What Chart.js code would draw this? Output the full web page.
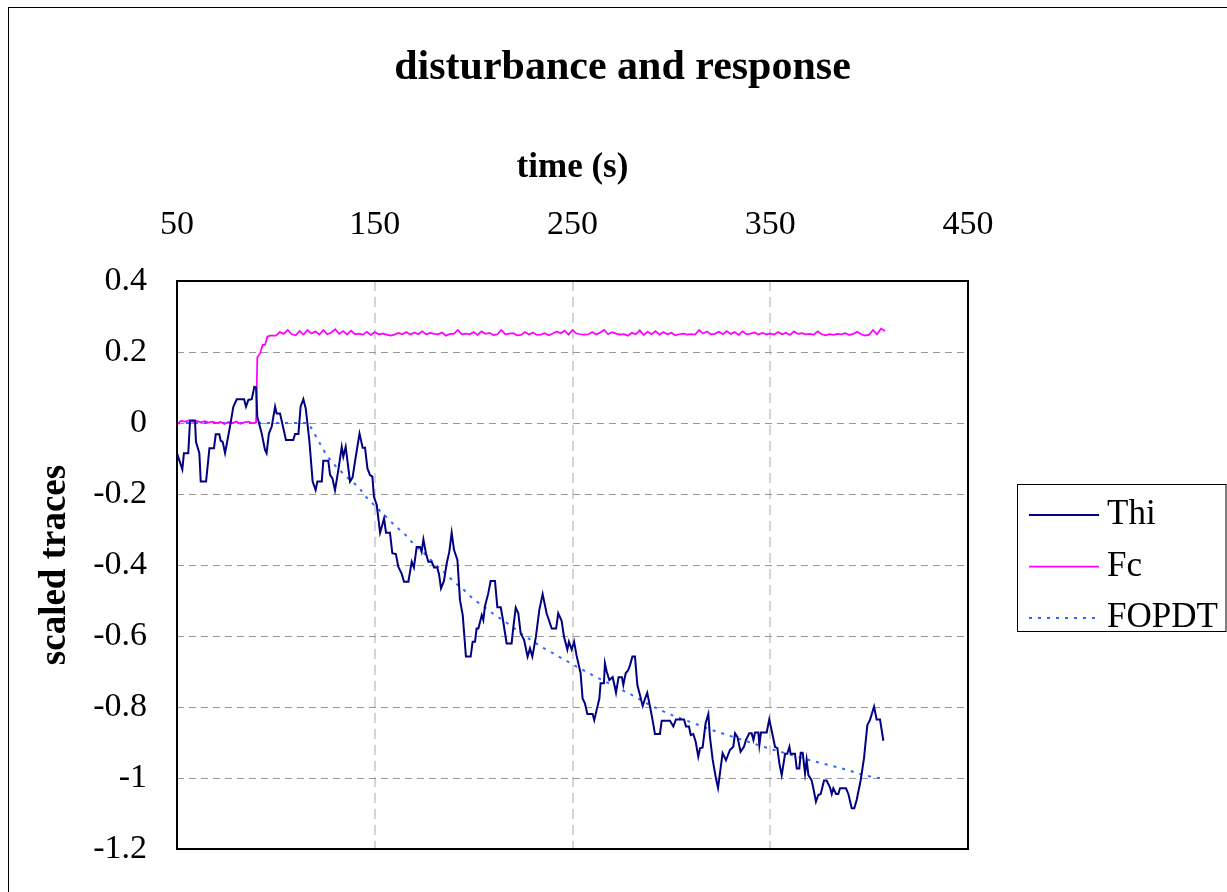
<!DOCTYPE html>
<html>
<head>
<meta charset="utf-8">
<title>disturbance and response</title>
<script src="https://cdn.jsdelivr.net/npm/chart.js@4.4.1/dist/chart.umd.min.js"></script>
<style>
  html, body { margin: 0; padding: 0; background: #fff; }
  canvas { display: block; }
</style>
</head>
<body>
<canvas id="myChart" width="1227" height="892"></canvas>
<script>
// values
const seriesNames = ['Thi', 'Fc', 'FOPDT'];
const xRange = [50, 450];
const xStep = 100;
const yRange = [-1.2, 0.4];
const yStep = 0.2;

const thiTime = [
  50, 52.7, 53.5, 55.7, 56.6, 59.1, 59.6, 61.3, 62, 64.7,
  66.4, 68.7, 69.6, 71.4, 72.1, 73.1, 74.3, 76.8, 78.5, 80.2,
  83.9, 84.9, 86.1, 87.8, 89.1, 90, 90.6, 92.8, 94.5, 95.3,
  96.5, 97.9, 99.6, 100.4, 102.1, 105.1, 108.8, 109.7, 111.4, 112.5,
  113.9, 115.1, 116.9, 118.6, 120.1, 121, 123.2, 124, 126.5, 127.4,
  128.6, 129.9, 131.6, 133.3, 134.1, 135.3, 137.5, 138.8, 140, 142.3,
  143.9, 145.1, 146.3, 147.6, 148.8, 149.6, 151, 152.7, 154.7, 155.7,
  157.7, 158.9, 160.7, 161.9, 163.6, 164.8, 167, 168.7, 169.8, 171.2,
  172.9, 173.7, 174.6, 175.9, 177.1, 178.8, 180, 181.6, 182.5, 183.5,
  185, 186.4, 187.7, 188.9, 190.1, 191.8, 193.1, 194.5, 196.1, 198.5,
  199.5, 200.7, 201.5, 202.4, 204.1, 204.9, 205.7, 207.4, 208.6, 210.8,
  212, 213.7, 214.7, 216.7, 219.2, 220.1, 221.3, 222.6, 223.8, 225.5,
  227.3, 228.5, 229.7, 231.5, 233.2, 234.9, 236.9, 239.5, 241.7, 242.8,
  244.5, 245.7, 247.4, 248.2, 249.6, 250.8, 252.1, 254.1, 255.1, 256.3,
  257.5, 260.2, 261, 262.6, 263.6, 264.2, 265.9, 266.4, 267.3, 268.6,
  270.3, 271.2, 272, 273.3, 275, 275.7, 276.9, 278.2, 279.1, 280.3,
  281.6, 282.8, 284.1, 285.5, 286.7, 287.8, 289.2, 290.5, 291.7, 294.2,
  295.1, 299.3, 301, 302.3, 306.4, 307.4, 308.9, 309.8, 311.1, 312.3,
  313.6, 314.5, 315.8, 317.3, 318.7, 319.5, 320.9, 322.5, 323.6, 325.9,
  327.6, 329.6, 331.3, 332.2, 333.4, 335, 336.7, 337.7, 339.4, 340.6,
  341.5, 342.3, 344, 344.5, 345.3, 348.2, 349.5, 351.2, 352.4, 353.6,
  354.6, 355.8, 357.5, 358.6, 359.7, 360.3, 362.5, 363.4, 364.7, 365.4,
  366.4, 367.6, 368.4, 369.3, 370.9, 371.8, 373.1, 374.3, 375.5, 377.2,
  378.5, 380.2, 381.1, 381.9, 383.3, 384.4, 385.3, 388.3, 389.5, 391.2,
  392.5, 393.7, 395.7, 397.4, 399.1, 400.4, 402.5, 403.8, 405.5, 407.2
];
const thiValue = [
  -0.085, -0.131, -0.085, -0.085, 0.007, 0.007, -0.053, -0.085, -0.165, -0.165,
  -0.071, -0.071, -0.032, -0.032, -0.05, -0.053, -0.085, -0.01, 0.046, 0.067,
  0.067, 0.046, 0.065, 0.067, 0.102, 0.1, 0.018, -0.029, -0.076, -0.085,
  -0.029, -0.01, 0.046, 0.027, 0.027, -0.048, -0.048, -0.031, -0.031, 0.046,
  0.067, 0.041, -0.048, -0.165, -0.189, -0.165, -0.165, -0.106, -0.106, -0.146,
  -0.156, -0.189, -0.132, -0.067, -0.095, -0.067, -0.165, -0.153, -0.109, -0.03,
  -0.07, -0.07, -0.128, -0.147, -0.151, -0.208, -0.231, -0.309, -0.269, -0.309,
  -0.309, -0.367, -0.369, -0.405, -0.424, -0.447, -0.447, -0.391, -0.407, -0.349,
  -0.349, -0.363, -0.328, -0.367, -0.391, -0.391, -0.407, -0.407, -0.426, -0.466,
  -0.445, -0.395, -0.363, -0.309, -0.358, -0.386, -0.499, -0.541, -0.658, -0.658,
  -0.616, -0.616, -0.579, -0.579, -0.541, -0.555, -0.517, -0.48, -0.445, -0.445,
  -0.519, -0.519, -0.55, -0.621, -0.621, -0.574, -0.52, -0.536, -0.593, -0.611,
  -0.658, -0.635, -0.658, -0.602, -0.527, -0.482, -0.536, -0.579, -0.579, -0.536,
  -0.557, -0.602, -0.638, -0.616, -0.638, -0.616, -0.656, -0.705, -0.776, -0.79,
  -0.82, -0.82, -0.837, -0.799, -0.776, -0.733, -0.733, -0.677, -0.7, -0.724,
  -0.716, -0.738, -0.76, -0.716, -0.716, -0.738, -0.705, -0.696, -0.682, -0.658,
  -0.658, -0.738, -0.766, -0.797, -0.776, -0.76, -0.799, -0.837, -0.876, -0.876,
  -0.839, -0.839, -0.855, -0.835, -0.835, -0.855, -0.855, -0.879, -0.876, -0.898,
  -0.94, -0.916, -0.914, -0.846, -0.82, -0.884, -0.949, -1.0, -1.028, -0.93,
  -0.95, -0.921, -0.912, -0.874, -0.884, -0.926, -0.912, -0.893, -0.874, -0.874,
  -0.893, -0.872, -0.872, -0.907, -0.872, -0.872, -0.835, -0.879, -0.912, -0.916,
  -0.959, -0.992, -0.932, -0.932, -0.912, -0.932, -0.932, -0.973, -0.973, -0.929,
  -0.929, -0.987, -0.949, -0.992, -1.006, -1.029, -1.067, -1.048, -1.045, -1.007,
  -1.007, -1.026, -1.045, -1.029, -1.045, -1.045, -1.029, -1.029, -1.045, -1.085,
  -1.085, -1.062, -1.007, -0.945, -0.851, -0.837, -0.799, -0.835, -0.835, -0.895
];

const fcTime = [
  50, 52, 54, 56, 58, 60, 62, 64, 66, 68,
  70, 72, 74, 76, 78, 80, 82, 84, 86, 88,
  90, 90.6, 92, 93.3, 94.5, 95.7, 97, 100,
  102, 104, 106, 108, 110, 112, 114, 116, 118, 120,
  122, 124, 126, 128, 130, 132, 134, 136, 138, 140,
  142, 144, 146, 148, 150, 152, 154, 156, 158, 160,
  162, 164, 166, 168, 170, 172, 174, 176, 178, 180,
  182, 184, 186, 188, 190, 192, 194, 196, 198, 200,
  202, 204, 206, 208, 210, 212, 214, 216, 218, 220,
  222, 224, 226, 228, 230, 232, 234, 236, 238, 240,
  242, 244, 246, 248, 250, 252, 254, 256, 258, 260,
  262, 264, 266, 268, 270, 272, 274, 276, 278, 280,
  282, 284, 286, 288, 290, 292, 294, 296, 298, 300,
  302, 304, 306, 308, 310, 312, 314, 316, 318, 320,
  322, 324, 326, 328, 330, 332, 334, 336, 338, 340,
  342, 344, 346, 348, 350, 352, 354, 356, 358, 360,
  362, 364, 366, 368, 370, 372, 374, 376, 378, 380,
  382, 384, 386, 388, 390, 392, 394, 396, 398, 400,
  402, 404, 406, 408
];
const fcValue = [
  -0.005, 0.006, 0.004, 0.007, 0.003, 0.006, 0.002, 0.005, 0.001, 0.004,
  0.0, 0.003, -0.003, 0.003, 0.0, 0.004, -0.002, 0.002, 0.004, 0.0,
  0.002, 0.185, 0.196, 0.22, 0.22, 0.243, 0.246, 0.246,
  0.256, 0.251, 0.262, 0.25, 0.247, 0.259, 0.249, 0.262, 0.252, 0.258,
  0.249, 0.262, 0.25, 0.255, 0.264, 0.251, 0.259, 0.249, 0.26, 0.25,
  0.252, 0.249, 0.257, 0.248, 0.256, 0.25, 0.252, 0.249, 0.246, 0.249,
  0.254, 0.25, 0.256, 0.249, 0.255, 0.25, 0.258, 0.25, 0.254, 0.251,
  0.25, 0.255, 0.246, 0.251, 0.251, 0.262, 0.25, 0.252, 0.25, 0.256,
  0.248, 0.258, 0.251, 0.254, 0.248, 0.25, 0.262, 0.25, 0.252, 0.253,
  0.247, 0.248, 0.256, 0.249, 0.255, 0.248, 0.249, 0.253, 0.247, 0.252,
  0.258, 0.253, 0.26, 0.249, 0.262, 0.252, 0.25, 0.249, 0.25, 0.256,
  0.249, 0.255, 0.262, 0.25, 0.256, 0.252, 0.249, 0.25, 0.246, 0.254,
  0.25, 0.261, 0.248, 0.257, 0.25, 0.259, 0.249, 0.256, 0.25, 0.254,
  0.247, 0.25, 0.252, 0.249, 0.25, 0.249, 0.262, 0.252, 0.258, 0.25,
  0.251, 0.257, 0.25, 0.259, 0.251, 0.256, 0.248, 0.258, 0.25, 0.252,
  0.255, 0.249, 0.254, 0.25, 0.252, 0.249, 0.256, 0.25, 0.254, 0.248,
  0.258, 0.251, 0.253, 0.25, 0.251, 0.249, 0.258, 0.25, 0.247, 0.25,
  0.248, 0.251, 0.25, 0.253, 0.248, 0.251, 0.257, 0.25, 0.246, 0.249,
  0.262, 0.25, 0.266, 0.259
];

const fopdtTime = [
  50, 116, 118, 120, 122.5, 125, 127.5, 130, 132.5, 135,
  137.5, 140, 142.5, 145, 150, 155, 160, 165, 170, 175,
  180, 185, 190, 195, 200, 205, 210, 215, 220, 225,
  230, 235, 240, 245, 250, 255, 260, 265, 270, 275,
  280, 285, 290, 295, 300, 305, 310, 315, 320, 325,
  330, 335, 340, 345, 350, 355, 360, 365, 370, 375,
  380, 385, 390, 395, 400, 405, 408
];
const fopdtValue = [
  0, 0, -0.015, -0.035, -0.06, -0.085, -0.104, -0.12, -0.134, -0.148,
  -0.16, -0.172, -0.185, -0.205, -0.233, -0.26, -0.288, -0.312, -0.343, -0.367,
  -0.395, -0.42, -0.447, -0.47, -0.497, -0.516, -0.538, -0.556, -0.576, -0.597,
  -0.615, -0.633, -0.648, -0.664, -0.68, -0.695, -0.71, -0.724, -0.738, -0.752,
  -0.766, -0.782, -0.797, -0.81, -0.822, -0.833, -0.843, -0.853, -0.864, -0.873,
  -0.882, -0.891, -0.9, -0.909, -0.918, -0.926, -0.934, -0.942, -0.95, -0.957,
  -0.964, -0.971, -0.979, -0.988, -0.995, -1.0, -1.003
];

const toPoints = (xs, ys) => xs.map((x, i) => ({ x: x, y: ys[i] }));

Chart.defaults.font.family = "'Times New Roman', 'Liberation Serif', serif";
Chart.defaults.color = '#000';

// white background, outer frame, plot box and the boxed legend on the right
const framePlugin = {
  id: 'frame',
  beforeDraw(chart) {
    const c = chart.ctx;
    c.save();
    c.fillStyle = '#fff';
    c.fillRect(0, 0, chart.width, chart.height);
    c.strokeStyle = '#000';
    c.lineWidth = 1;
    c.strokeRect(8.5, 7.5, 1260, 920);
    c.restore();
  },
  afterDraw(chart) {
    const c = chart.ctx;
    const a = chart.chartArea;
    c.save();
    c.strokeStyle = '#000';
    c.lineWidth = 2;
    c.strokeRect(a.left, a.top, a.right - a.left, a.bottom - a.top);

    c.lineWidth = 1;
    c.strokeRect(1017.5, 484.5, 208.5, 147);
    c.font = "35px 'Times New Roman', 'Liberation Serif', serif";
    c.textBaseline = 'middle';
    c.textAlign = 'left';
    chart.data.datasets.forEach((ds, i) => {
      const y = 515 + i * 51.5;
      c.strokeStyle = ds.borderColor;
      c.lineWidth = ds.borderWidth;
      c.setLineDash(ds.borderDash || []);
      c.beginPath();
      c.moveTo(1029, y);
      c.lineTo(1099, y);
      c.stroke();
      c.setLineDash([]);
      c.fillStyle = '#000';
      c.fillText(ds.label, 1107, y);
    });
    c.restore();
  }
};

const ctx = document.getElementById('myChart').getContext('2d');
let myChart = new Chart(ctx, {
  type: 'line',
  data: {
    datasets: [
      {
        label: seriesNames[0],
        data: toPoints(thiTime, thiValue),
        borderColor: '#000080',
        borderWidth: 2,
        pointRadius: 0,
        tension: 0,
        fill: false
      },
      {
        label: seriesNames[1],
        data: toPoints(fcTime, fcValue),
        borderColor: '#ff00ff',
        borderWidth: 1.75,
        pointRadius: 0,
        tension: 0,
        fill: false
      },
      {
        label: seriesNames[2],
        data: toPoints(fopdtTime, fopdtValue),
        borderColor: '#3366ff',
        borderWidth: 2,
        borderDash: [3, 6],
        pointRadius: 0,
        tension: 0,
        fill: false
      }
    ]
  },
  options: {
    responsive: false,
    animation: false,
    events: [],
    layout: { padding: { left: 18, right: 0, top: 8, bottom: 43 } },
    plugins: {
      legend: { display: false },
      tooltip: { enabled: false },
      title: {
        display: true,
        text: 'disturbance and response',
        color: '#000',
        font: { size: 42, weight: 'bold' },
        padding: { top: 35, bottom: 10 }
      }
    },
    scales: {
      x: {
        type: 'linear',
        position: 'top',
        min: xRange[0],
        max: xRange[1],
        ticks: { stepSize: xStep, maxRotation: 0, padding: 36, font: { size: 34 }, color: '#000' },
        grid: { color: '#d4d4d4', lineWidth: 2, drawTicks: false },
        border: { display: false, dash: [10, 6] },
        title: {
          display: true,
          text: 'time (s)',
          color: '#000',
          font: { size: 35, weight: 'bold' },
          padding: { top: 44, bottom: 0 }
        },
        afterFit: (s) => { s.height = 177.6; }
      },
      y: {
        type: 'linear',
        position: 'left',
        min: yRange[0],
        max: yRange[1],
        ticks: {
          stepSize: yStep,
          padding: 30,
          font: { size: 34 },
          color: '#000',
          callback: (v) => Number(v.toFixed(1)).toString()
        },
        grid: { color: '#999999', lineWidth: 1, drawTicks: false },
        border: { display: false, dash: [7, 5] },
        title: {
          display: true,
          text: 'scaled traces',
          color: '#000',
          font: { size: 37, weight: 'bold' },
          padding: { top: 15.6, bottom: 0 }
        },
        afterFit: (s) => {
          s.width = 159;
          // the end labels may hang past the plot box, as in the reference
          s.paddingTop = 0;
          s.paddingBottom = 0;
        }
      },
      yr: {
        type: 'linear',
        position: 'right',
        ticks: { display: false },
        grid: { display: false, drawTicks: false },
        border: { display: false },
        afterFit: (s) => { s.width = 259; }
      }
    }
  },
  plugins: [framePlugin]
});
</script>
</body>
</html>
